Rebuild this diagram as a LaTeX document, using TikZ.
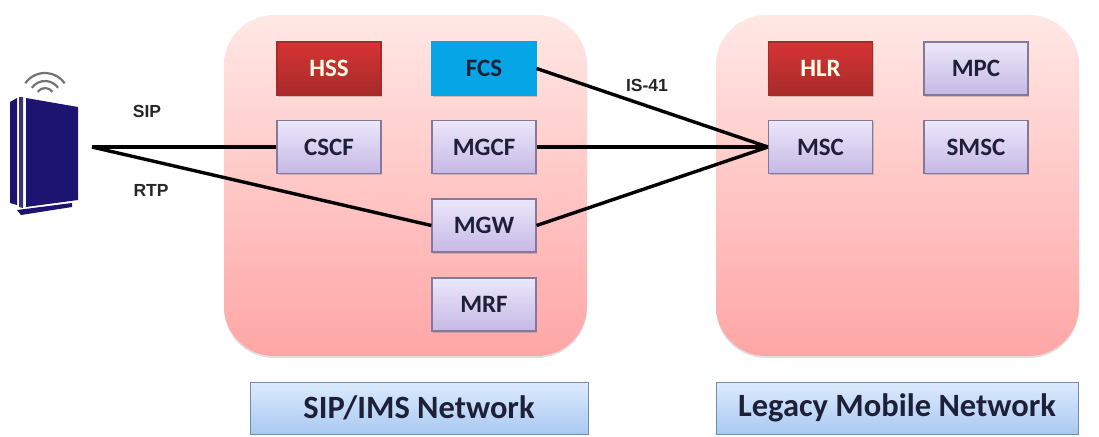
\documentclass[tikz,border=0pt]{standalone}
\usepackage{fontspec}
\setmainfont{Carlito}
\newfontfamily\labelfont{Liberation Sans}
\usepackage{xcolor}
\definecolor{netpink}{HTML}{FFA6A6}
\definecolor{netpale}{HTML}{FFE8E5}
\definecolor{boxtop}{HTML}{EBE8FA}
\definecolor{boxlow}{HTML}{C6B8E6}
\definecolor{boxedge}{HTML}{85789A}
\definecolor{redtop}{HTML}{D63434}
\definecolor{redlow}{HTML}{A82A2A}
\definecolor{fcsblue}{HTML}{06A6E6}
\definecolor{captop}{HTML}{DDEBFD}
\definecolor{caplow}{HTML}{A9C9F2}
\definecolor{capedge}{HTML}{6F8CA8}
\definecolor{devblue}{HTML}{1C1470}
\definecolor{inktext}{HTML}{1E2038}
\usepackage{tikz}
\usetikzlibrary{shadows}

\begin{document}
\begin{tikzpicture}[
  x=1pt,
  y=-1pt,
  panel/.style={rounded corners=50pt, minimum width=363pt, minimum height=341pt,
    top color=netpale, bottom color=netpink,
    drop shadow={shadow xshift=0pt, shadow yshift=-2pt, opacity=0.25}},
  elem/.style={draw=boxedge, line width=1.2pt, minimum width=104pt, minimum height=53pt,
    inner sep=0pt, top color=boxtop, bottom color=boxlow, text=inktext,
    font=\fontsize{25}{30}\selectfont\bfseries,
    drop shadow={shadow xshift=1pt, shadow yshift=-1.5pt, opacity=0.35}},
  db/.style={elem, draw=redlow, top color=redtop, bottom color=redlow, text=white!90!yellow},
  fcsbox/.style={elem, draw=fcsblue, top color=fcsblue, bottom color=fcsblue},
  caption/.style={draw=capedge, line width=0.8pt, minimum height=52pt, inner sep=0pt,
    top color=captop, bottom color=caplow, text=inktext,
    font=\fontsize{32.5}{38}\selectfont\bfseries},
  tag/.style={font=\fontsize{17.5}{20}\selectfont\labelfont\bfseries, text=black!85},
  link/.style={black, line width=3.4pt},
  waves/.style={gray!90!black, line width=2.2pt},
]
\useasboundingbox (0,0) rectangle (1099,436);

% Networks
\node[panel] (ims) at (405.5,185.5) {};
\node[panel] (legacy) at (897.5,185.5) {};

% Captions
\node[caption, minimum width=338pt] (imscap) at (419,408) {SIP/IMS Network};
\node[caption, minimum width=362pt] (legacycap) at (897,408) {Legacy Mobile Network};

% Device
\fill[devblue] (10,102) -- (17,98) -- (17,205) -- (10,203) -- cycle;
\fill[devblue!70!gray] (19,97) -- (23,97) -- (23,208) -- (19,207) -- cycle;
\fill[devblue] (26,98) -- (78,107) -- (78,200) -- (26,207) -- cycle;
\fill[devblue] (17,210) -- (72,203) -- (72,207) -- (21,215) -- cycle;
\foreach \r in {9,16,24}
  \draw[waves] ([shift={(215:\r)}]45,97) arc[start angle=215, end angle=325, radius=\r];

% Elements
\node[db] (hss) at (329,68.5) {HSS};
\node[fcsbox] (fcs) at (484,68.5) {FCS};
\node[elem] (cscf) at (329,147) {CSCF};
\node[elem] (mgcf) at (484,147) {MGCF};
\node[elem] (mgw) at (484,225.5) {MGW};
\node[elem] (mrf) at (484,304.5) {MRF};
\node[db] (hlr) at (820.5,68.5) {HLR};
\node[elem] (mpc) at (976,68.5) {MPC};
\node[elem] (msc) at (820.5,147) {MSC};
\node[elem] (smsc) at (976,147) {SMSC};

% Links
\coordinate (hub) at (92,147);
\draw[link] (hub) -- (cscf.west);
\draw[link] (hub) -- (mgw.west);
\foreach \a in {fcs,mgcf,mgw}
  \draw[link] (\a.east) -- (msc.west);

% Labels
\node[tag] (sip) at (147,111) {SIP};
\node[tag] (rtp) at (151,190) {RTP};
\node[tag] (isup) at (647,85) {IS-41};

\end{tikzpicture}
\end{document}
